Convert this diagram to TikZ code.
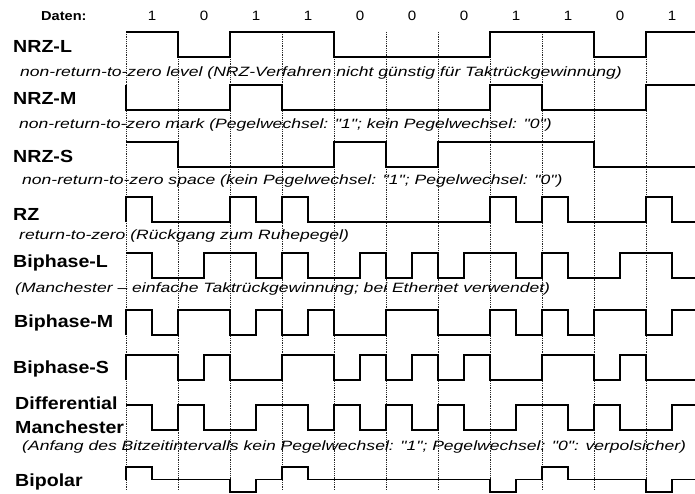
\documentclass[tikz,border=0pt]{standalone}
\usepackage{fontspec}
\setmainfont{Liberation Sans}
\newfontfamily\lblfont[FakeStretch=1.12]{Liberation Sans}
\newfontfamily\notefont[FakeStretch=1.3]{Liberation Sans}

\tikzset{
  wave/.style={line width=1.6pt, line join=miter, black},
  tick/.style={line width=0.6pt, black!85, dash pattern=on 0.7pt off 1.1pt},
  lbl/.style={anchor=base west, inner sep=0pt, font=\lblfont\bfseries\fontsize{17.5}{20}\selectfont},
  note/.style={anchor=base west, inner sep=0pt, font=\notefont\itshape\fontsize{13.5}{16}\selectfont},
  digit/.style={anchor=base, inner sep=0pt, font=\lblfont\fontsize{13.5}{15}\selectfont}
}

\newcommand{\signal}[3]{%
  \draw[wave, shift={(126,#1)}, x=26pt, y=-25pt] (0,#2)
    \foreach \l [count=\i from 0] in {#3} {-- (\i,\l) -- (\i+1,\l)};}

\begin{document}
\begin{tikzpicture}[x=1pt,y=-1pt]
\useasboundingbox (0,0) rectangle (695,494);
\clip (0,0) rectangle (695,494);

\foreach \k in {0,...,10}
  \draw[tick] (126+52*\k,32) -- (126+52*\k,490);

\node (daten) at (41,21) [lbl, font=\lblfont\bfseries\fontsize{13}{15}\selectfont] {Daten:};
\foreach \d [count=\k from 0] in {1,0,1,1,0,0,0,1,1,0,1}
  \node (d\k) at (152+52*\k,21) [digit] {\d};

\node (nrzl) at (13,53) [lbl] {NRZ-L};
\node (nrzlnote) at (20,77) [note] {non-return-to-zero level (NRZ-Verfahren nicht günstig für Taktrückgewinnung)};
\node (nrzm) at (13,105) [lbl] {NRZ-M};
\node (nrzmnote) at (19,129) [note] {non-return-to-zero mark (Pegelwechsel: "1"; kein Pegelwechsel: "0")};
\node (nrzs) at (13,163) [lbl] {NRZ-S};
\node (nrzsnote) at (22,185) [note] {non-return-to-zero space (kein Pegelwechsel: "1"; Pegelwechsel: "0")};
\node (rz) at (13,220) [lbl] {RZ};
\node (rznote) at (19,239) [note] {return-to-zero (Rückgang zum Ruhepegel)};
\node (bphl) at (13,267) [lbl] {Biphase-L};
\node (bphlnote) at (15,292) [note] {(Manchester – einfache Taktrückgewinnung; bei Ethernet verwendet)};
\node (bphm) at (14,327) [lbl] {Biphase-M};
\node (bphs) at (13,373) [lbl] {Biphase-S};
\node (diff) at (15,409) [lbl] {Differential};
\node (manch) at (15,433) [lbl] {Manchester};
\node (diffnote) at (22,450) [note] {(Anfang des Bitzeitintervalls kein Pegelwechsel: "1"; Pegelwechsel: "0": verpolsicher)};
\node (bipol) at (15,486) [lbl] {Bipolar};

\signal{32}{0}{0,0,1,1,0,0,0,0,1,1,1,1,1,1,0,0,0,0,1,1,0,0}
\signal{85}{0}{1,1,1,1,0,0,1,1,1,1,1,1,1,1,0,0,1,1,1,1,0,0}
\signal{142}{0}{0,0,1,1,1,1,1,1,0,0,1,1,0,0,0,0,0,0,1,1,1,1}
\signal{197}{1}{0,1,1,1,0,1,0,1,1,1,1,1,1,1,0,1,0,1,1,1,0,1}
\signal{253}{0}{0,1,1,0,0,1,0,1,1,0,1,0,1,0,0,1,0,1,1,0,0,1}
\signal{310}{1}{0,1,0,0,1,0,1,0,1,1,0,0,1,1,0,1,0,1,0,0,1,0}
\signal{355}{1}{0,0,1,0,1,1,0,0,1,0,1,0,1,0,1,1,0,0,1,0,1,1}
\signal{405}{0}{0,1,0,1,1,0,0,1,0,1,0,1,0,1,1,0,0,1,0,1,1,0}
\signal{467}{0.5}{0,0.5,0.5,0.5,1,0.5,0,0.5,0.5,0.5,0.5,0.5,0.5,0.5,1,0.5,0,0.5,0.5,0.5,1,0.5}
\end{tikzpicture}
\end{document}
